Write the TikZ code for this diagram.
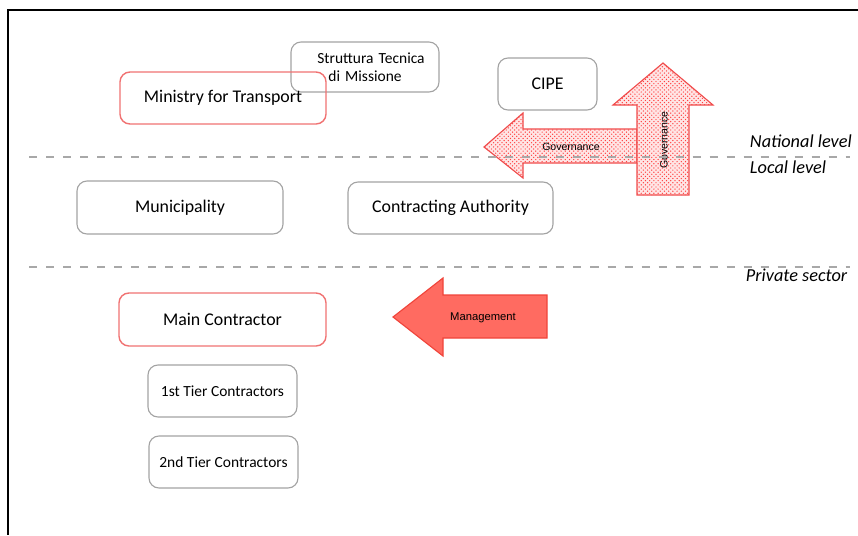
\documentclass[tikz,border=0pt]{standalone}
\usepackage{fontspec}
\setmainfont{Carlito}
\newfontfamily\arrowfont{Liberation Sans}
\usetikzlibrary{patterns}

\definecolor{boxred}{HTML}{F07272}
\definecolor{boxgray}{HTML}{A3A3A3}
\definecolor{mgmtred}{HTML}{FF6B61}
\definecolor{mgmtline}{HTML}{F0443A}
\definecolor{govred}{HTML}{F04C4C}
\definecolor{dashgray}{HTML}{A8A8A8}

\begin{document}
\begin{tikzpicture}[x=0.025cm, y=-0.025cm,
  actor/.style={draw=boxgray, line width=0.8pt, rounded corners=0.25cm,
    inner sep=0pt, align=center, font=\fontsize{12.7}{14}\selectfont},
  redactor/.style={actor, draw=boxred, line width=1pt},
  smallactor/.style={actor, font=\fontsize{11}{12.5}\selectfont},
  levelline/.style={draw=dashgray, line width=1.8pt, dash pattern=on 5.7pt off 6.4pt},
  leveltext/.style={anchor=west, font=\fontsize{13}{15}\selectfont\itshape},
  govarrow/.style={draw=govred, line width=0.8pt, preaction={fill=red!10},
    pattern=crosshatch dots, pattern color=red!75},
  arrowtext/.style={font=\arrowfont\fontsize{7.5}{9}\selectfont}]

  \useasboundingbox (0,0) rectangle (858,535);

  % frame
  \draw[line width=1.4pt] (858,10) -- (8,10) -- (8,535);

  % Governance
  \draw[govarrow] (484,147) -- (523,113) -- (523,129) -- (637,129)
    -- (637,163) -- (523,163) -- (523,178) -- cycle;
  \draw[govarrow] (663,63) -- (713,105) -- (689,105) -- (689,195)
    -- (637,195) -- (637,105) -- (613,105) -- cycle;
  \node[arrowtext] (govleft) at (571,147) {Governance};
  \node[arrowtext, rotate=90] (govup) at (664,140) {Governance};

  % Management
  \draw[draw=mgmtline, fill=mgmtred, line width=0.8pt] (393,317) -- (443,278)
    -- (443,295) -- (547,295) -- (547,338) -- (443,338) -- (443,356) -- cycle;
  \node[arrowtext, font=\arrowfont\fontsize{8}{9}\selectfont] (mgmt) at (483,318) {Management};

  % levels
  \draw[levelline] (29,157) -- (850,157);
  \draw[levelline] (29,267) -- (850,267);
  \node[leveltext] (national) at (745,141) {National level};
  \node[leveltext] (local) at (745,167) {Local level};
  \node[leveltext] (private) at (741,275) {Private sector};

  % national
  \node[smallactor, minimum width=3.7cm, minimum height=1.25cm, text width=3.5cm]
    (stm) at (365,67) {\hspace*{0.3cm}Struttura Tecnica\\di Missione};
  \node[redactor, minimum width=5.15cm, minimum height=1.3cm] (mit) at (223,98) {Ministry for Transport};
  \node[actor, minimum width=2.475cm, minimum height=1.3cm] (cipe) at (547.5,84) {CIPE};

  % local
  \node[actor, minimum width=5.15cm, minimum height=1.325cm] (muni) at (180,207.5) {Municipality};
  \node[actor, minimum width=5.125cm, minimum height=1.3cm] (ca) at (450.5,208) {Contracting Authority};

  % private
  \node[redactor, minimum width=5.175cm, minimum height=1.325cm] (main) at (222.5,319.5) {Main Contractor};
  \node[smallactor, minimum width=3.725cm, minimum height=1.3cm] (tier1) at (222.5,391) {1st Tier Contractors};
  \node[smallactor, minimum width=3.725cm, minimum height=1.3cm] (tier2) at (223.5,462) {2nd Tier Contractors};
\end{tikzpicture}
\end{document}
